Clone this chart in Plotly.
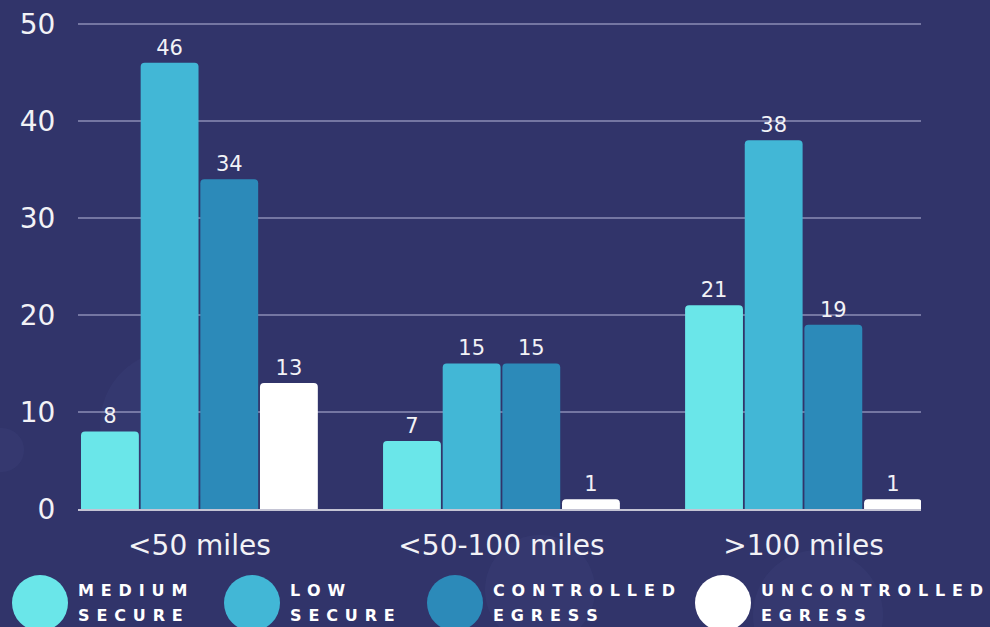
import plotly.graph_objects as go

# Distance bands and counts per security category
categories = ["<50 miles", "<50-100 miles", ">100 miles"]
series_names = ["Medium secure", "Low secure", "Controlled egress", "Uncontrolled egress"]
medium_secure = [8, 7, 21]
low_secure = [46, 15, 38]
controlled_egress = [34, 15, 19]
uncontrolled_egress = [13, 1, 1]
y_ticks = [0, 10, 20, 30, 40, 50]

series_values = [medium_secure, low_secure, controlled_egress, uncontrolled_egress]
colors = ["#6ae6e9", "#42b7d6", "#2c8ab9", "#ffffff"]

BG = "#31346a"
FONT = "DejaVu Sans"
TEXT = "#f2f2f6"
W, H = 990, 627
ML, MR, MT, MB = 78, 69, 21, 118
PW, PH = W - ML - MR, H - MT - MB

fig = go.Figure()
for name, vals, col in zip(series_names, series_values, colors):
    fig.add_trace(go.Bar(
        x=categories, y=vals, name=name,
        marker=dict(color=col, line=dict(width=0), cornerradius=4),
        text=[str(v) for v in vals], textposition="outside",
        textfont=dict(family=FONT, size=21, color=TEXT),
        cliponaxis=False, showlegend=False,
    ))


def px_x(p):
    return (p - ML) / PW


def px_y(p):
    return (H - MB - p) / PH


# soft bokeh circles in the background
bokeh = [(2, 450, 22, 0.06), (175, 425, 75, 0.05), (540, 590, 55, 0.06),
         (818, 615, 65, 0.06)]
shapes = []
for cx, cy, r, op in bokeh:
    shapes.append(dict(type="circle", layer="below",
                       xref="paper", yref="paper",
                       xsizemode="pixel", ysizemode="pixel",
                       xanchor=px_x(cx), yanchor=px_y(cy),
                       x0=-r, x1=r, y0=-r, y1=r,
                       fillcolor=f"rgba(120,140,210,{op})", line=dict(width=0)))

# custom legend: large dots with letter-spaced uppercase labels
legend_x = [40, 252, 455, 723]
legend_y = 603
line_y = [590, 615]
spacer = "\u2004\u200a"
annotations = []
for name, col, lx in zip(series_names, colors, legend_x):
    shapes.append(dict(type="circle", xref="paper", yref="paper",
                       xsizemode="pixel", ysizemode="pixel",
                       xanchor=px_x(lx), yanchor=px_y(legend_y),
                       x0=-28, x1=28, y0=-28, y1=28,
                       fillcolor=col, line=dict(width=0)))
    for word, ly in zip(name.split(" "), line_y):
        annotations.append(dict(xref="paper", yref="paper",
                                x=px_x(lx + 36), y=px_y(ly),
                                xanchor="left", yanchor="middle", align="left",
                                showarrow=False, text=spacer.join(list(word.upper())),
                                font=dict(family=FONT, size=16, color="#ffffff", weight="bold")))

fig.update_layout(
    width=W, height=H,
    margin=dict(l=ML, r=MR, t=MT, b=MB),
    paper_bgcolor=BG, plot_bgcolor="rgba(0,0,0,0)",
    barmode="group", bargap=0.21, bargroupgap=0.03,
    shapes=shapes, annotations=annotations,
    xaxis=dict(range=[-0.402, 2.389], showgrid=False, zeroline=False, automargin=False,
               showline=True, linecolor="#c4c4d4", linewidth=2,
               ticks="outside", ticklen=10, tickcolor="rgba(0,0,0,0)",
               tickfont=dict(family=FONT, size=28, color=TEXT)),
    yaxis=dict(range=[0, 50.3], tickvals=y_ticks, showgrid=True, automargin=False,
               gridcolor="rgba(200,200,230,0.45)", gridwidth=1.5, zeroline=False,
               ticks="outside", ticklen=16, tickcolor="rgba(0,0,0,0)",
               tickfont=dict(family=FONT, size=28, color=TEXT)),
)

fig.write_html("out.html")
